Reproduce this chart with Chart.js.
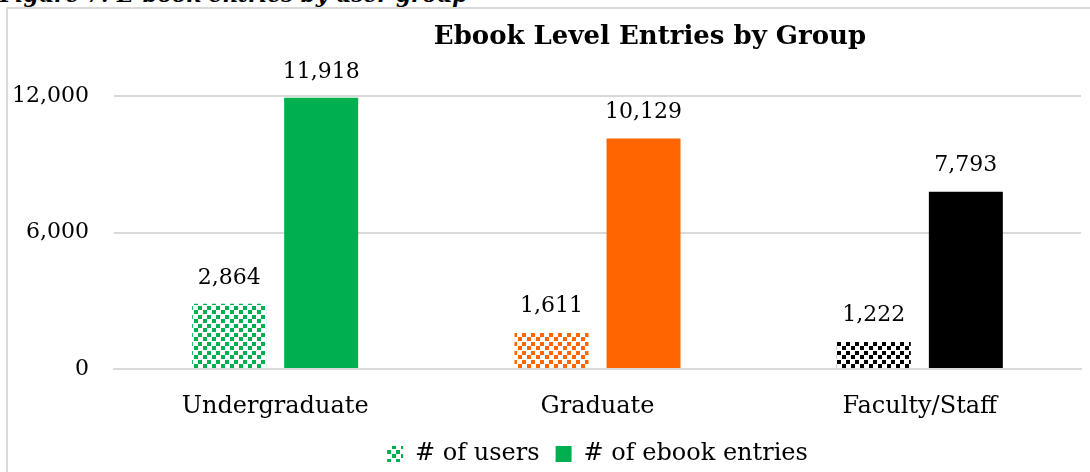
<!DOCTYPE html>
<html>
<head>
<meta charset="utf-8">
<script src="https://cdn.jsdelivr.net/npm/chart.js@4/dist/chart.umd.min.js"></script>
<style>
  body { margin: 0; background: #fff; overflow: hidden; }
  #caption {
    position: absolute; left: 0; top: -16px;
    font: italic bold 21.5px "DejaVu Serif", serif; line-height: 22px;
    white-space: nowrap; color: #000;
  }
  #frame {
    position: absolute; left: 6px; top: 7px; width: 1200px; height: 600px;
    border: 2px solid #d9d9d9; box-sizing: border-box;
  }
  #chart { position: absolute; left: 0; top: 0; }
</style>
</head>
<body>
<div id="caption">Figure 7: E-book entries by user group</div>
<div id="frame"></div>
<canvas id="chart" width="1090" height="472"></canvas>
<script>
const groups = ["Undergraduate", "Graduate", "Faculty/Staff"];
const users = [2864, 1611, 1222];
const entries = [11918, 10129, 7793];
const yTicks = [0, 6000, 12000];
const barColors = ["#00b050", "#ff6600", "#000000"];

const serif = "'DejaVu Serif', serif";

// dotted fill like the office "confetti" pattern
function dotPattern(color) {
  const c = document.createElement("canvas");
  c.width = 9; c.height = 9;
  const g = c.getContext("2d");
  g.fillStyle = color;
  g.fillRect(0, 0, 4, 4);
  g.fillRect(5, 4, 4, 4);
  return g.createPattern(c, "repeat");
}
const ctx = document.getElementById("chart").getContext("2d");
const userFills = barColors.map(dotPattern);

const fmt = v => v.toLocaleString("en-US");

const valueLabels = {
  id: "valueLabels",
  afterDatasetsDraw(chart) {
    const c = chart.ctx;
    c.save();
    c.font = "22px " + serif;
    c.fillStyle = "#000";
    c.textAlign = "center";
    c.textBaseline = "middle";
    chart.data.datasets.forEach((ds, i) => {
      chart.getDatasetMeta(i).data.forEach((bar, j) => {
        c.fillText(fmt(ds.data[j]), bar.x, bar.y - 26);
      });
    });
    c.restore();
  }
};

const offsetTitle = {
  id: "offsetTitle",
  afterDraw(chart) {
    const c = chart.ctx;
    c.save();
    c.font = "bold 26px " + serif;
    c.fillStyle = "#000";
    c.textAlign = "center";
    c.textBaseline = "middle";
    c.fillText("Ebook Level Entries by Group", 650, 37);
    c.restore();
  }
};

new Chart(ctx, {
  type: "bar",
  data: {
    labels: groups,
    datasets: [
      { label: "# of users", data: users, backgroundColor: userFills, borderWidth: 0 },
      { label: "# of ebook entries", data: entries, backgroundColor: barColors, borderWidth: 0 }
    ]
  },
  options: {
    responsive: false,
    animation: false,
    devicePixelRatio: 1,
    categoryPercentage: 0.571,
    barPercentage: 0.804,
    layout: { padding: { top: 96, left: 0, right: 9, bottom: -4 } },
    plugins: {
      tooltip: { enabled: false },
      legend: {
        position: "bottom",
        fullSize: false,
        labels: {
          font: { family: serif, size: 24 },
          color: "#000",
          boxWidth: 16,
          boxHeight: 16,
          padding: 16,
          generateLabels: () => [
            { text: "# of users", fillStyle: userFills[0], strokeStyle: "rgba(0,0,0,0)", lineWidth: 0, datasetIndex: 0 },
            { text: "# of ebook entries", fillStyle: barColors[0], strokeStyle: "rgba(0,0,0,0)", lineWidth: 0, datasetIndex: 1 }
          ]
        }
      }
    },
    scales: {
      x: {
        grid: { display: false },
        border: { color: "#d9d9d9", width: 2 },
        ticks: { font: { family: serif, size: 24 }, color: "#000", padding: 15 },
        afterFit: s => { s.height = 57; }
      },
      y: {
        min: 0,
        max: 12000,
        afterBuildTicks: s => { s.ticks = yTicks.map(v => ({ value: v })); },
        ticks: { font: { family: serif, size: 22 }, color: "#000", padding: 25, callback: v => fmt(v) },
        grid: { color: "#d9d9d9", lineWidth: 2, drawTicks: false },
        border: { display: false },
        afterFit: s => { s.width = 114; }
      }
    }
  },
  plugins: [valueLabels, offsetTitle]
});
</script>
</body>
</html>
